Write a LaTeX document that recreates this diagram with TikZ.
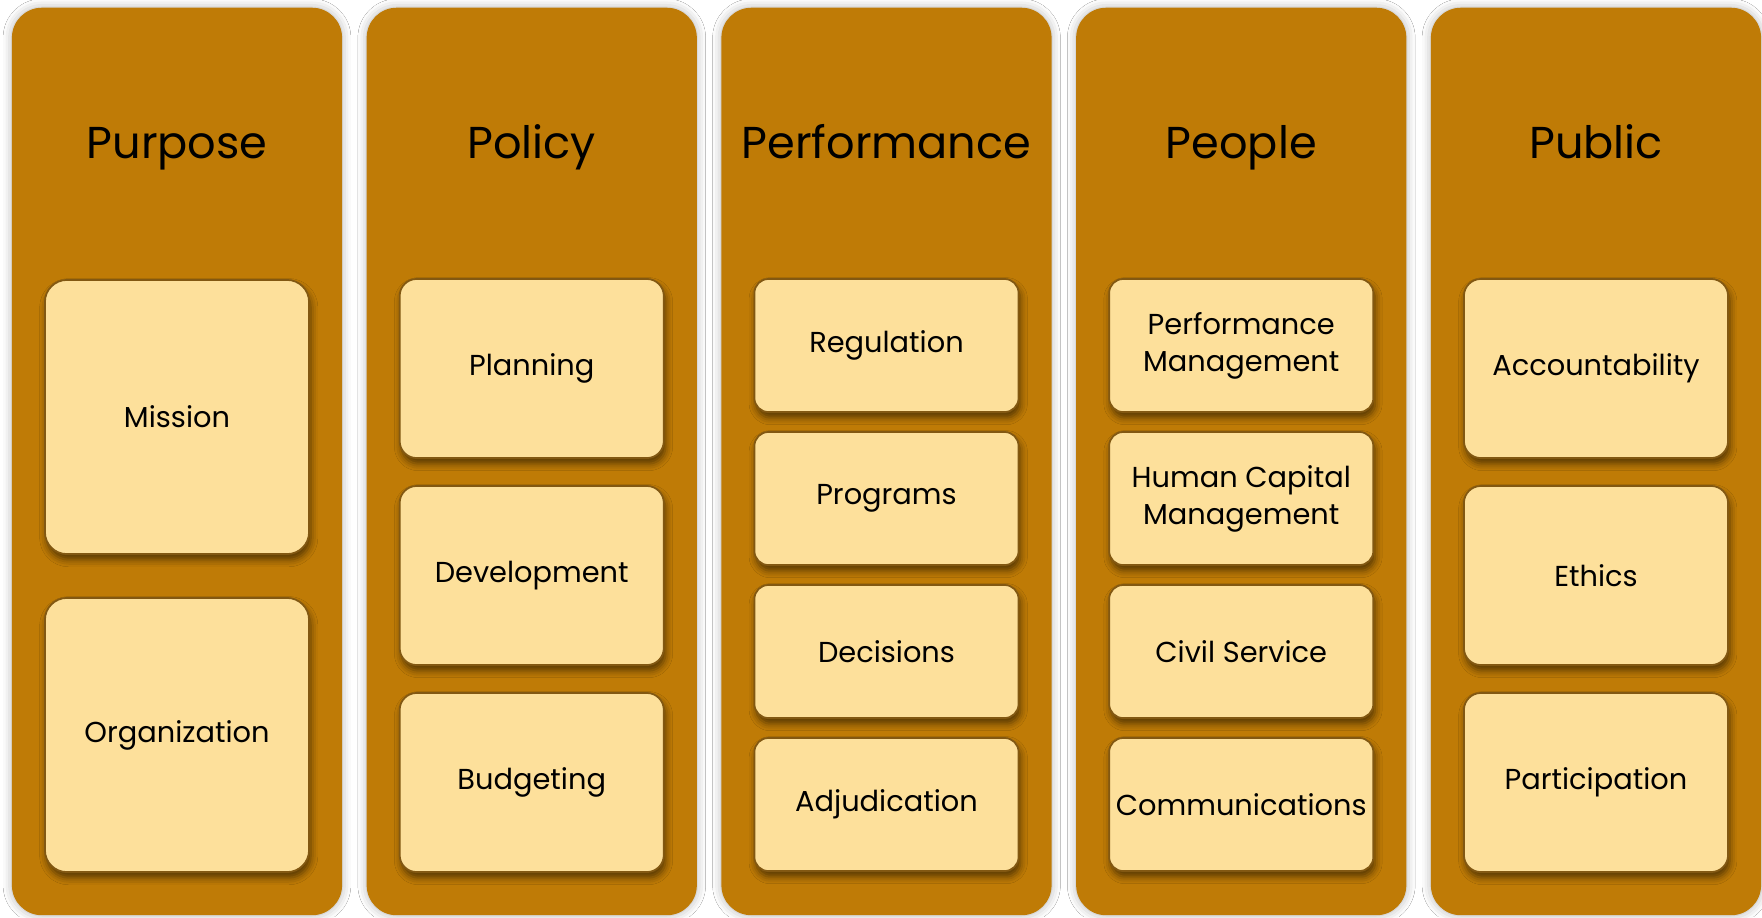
\documentclass[tikz,border=0pt]{standalone}
\usepackage{fontspec}
\setmainfont{Poppins}
\usetikzlibrary{shadows.blur}
\definecolor{colfill}{RGB}{191,123,6}
\definecolor{boxfill}{RGB}{253,224,155}
\definecolor{boxline}{RGB}{130,88,18}
\begin{document}
\begin{tikzpicture}[x=0.01cm,y=-0.01cm,
  column/.style={fill=colfill, draw=none, rounded corners=0.3cm, minimum width=3.3cm, minimum height=9.07cm, anchor=north, inner sep=0pt,
    blur shadow={shadow xshift=0pt, shadow yshift=0pt, shadow blur radius=2.5pt, shadow opacity=30}},
  title/.style={anchor=base, inner sep=0pt, font=\fontsize{12.7}{15}\selectfont},
  item/.style={fill=boxfill, draw=boxline, line width=0.5pt, minimum width=2.64cm, align=center, inner sep=0pt,
    font=\fontsize{8.2}{10.5}\selectfont,
    blur shadow={shadow xshift=0.5pt, shadow yshift=-1.6pt, shadow blur radius=2pt, shadow opacity=55}},
  big/.style={item, minimum height=2.74cm, rounded corners=0.22cm},
  mid/.style={item, minimum height=1.79cm, rounded corners=0.17cm},
  small/.style={item, minimum height=1.33cm, rounded corners=0.14cm}]
\useasboundingbox[fill=white] (0,0) rectangle (1762,917);
% columns
\node[column] (c1) at (177,7) {};
\node[column] (c2) at (531.75,7) {};
\node[column] (c3) at (886.5,7) {};
\node[column] (c4) at (1241.25,7) {};
\node[column] (c5) at (1596,7) {};
% titles
\node[title] (t1) at (177,158) {Purpose};
\node[title] (t2) at (531.75,158) {Policy};
\node[title] (t3) at (886.5,158) {Performance};
\node[title] (t4) at (1241.25,158) {People};
\node[title] (t5) at (1596,158) {Public};
% column 1
\node[big] (b11) at (177,417) {Mission};
\node[big] (b12) at (177,735) {Organization};
% column 2
\node[mid] (b21) at (531.75,368.5) {Planning};
\node[mid] (b22) at (531.75,575.5) {Development};
\node[mid] (b23) at (531.75,782.5) {Budgeting};
% column 3
\node[small] (b31) at (886.5,345.5) {Regulation};
\node[small] (b32) at (886.5,498.5) {Programs};
\node[small] (b33) at (886.5,651.5) {Decisions};
\node[small] (b34) at (886.5,804.5) {Adjudication};
% column 4
\node[small] (b41) at (1241.25,345.5) {Performance\\Management};
\node[small] (b42) at (1241.25,498.5) {Human Capital\\Management};
\node[small] (b43) at (1241.25,651.5) {Civil Service};
\node[small] (b44) at (1241.25,804.5) {Communications};
% column 5
\node[mid] (b51) at (1596,368.5) {Accountability};
\node[mid] (b52) at (1596,575.5) {Ethics};
\node[mid] (b53) at (1596,782.5) {Participation};
\end{tikzpicture}
\end{document}
